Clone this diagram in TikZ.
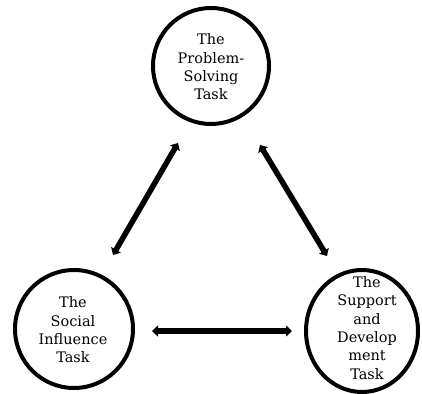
\documentclass[tikz,border=0pt]{standalone}
\usepackage{fontspec}
\setmainfont{DejaVu Serif}
\usetikzlibrary{arrows.meta}
\begin{document}
\begin{tikzpicture}[x=1pt,y=1pt,
  taskcircle/.style={draw=black, line width=4pt},
  tasktext/.style={align=center, inner sep=0pt, font=\fontsize{14.5}{18.3}\selectfont},
  biarrow/.style={line width=5.5pt, {Triangle[width=11pt,length=6pt]}-{Triangle[width=11pt,length=6pt]}}]
\useasboundingbox (0,0) rectangle (422,393);
% circles
\draw[taskcircle] (211,327) circle [radius=58];
\draw[taskcircle] (74,64) circle [radius=59];
\draw[taskcircle] (362,62) ellipse [x radius=56, y radius=61];
\node[tasktext] (ps) at (211,326) {The\\Problem-\\Solving\\Task};
\node[tasktext] (si) at (73,63) {The\\Social\\Influence\\Task};
\node[tasktext] (sd) at (367,65) {The\\Support\\and\\Develop\\ment\\Task};
% arrow ends
\coordinate (a1) at (113,138);
\coordinate (a2) at (178,250);
\coordinate (b1) at (260,248);
\coordinate (b2) at (327,137);
\coordinate (c1) at (152,62);
\coordinate (c2) at (292,62);
\draw[biarrow] (a1) -- (a2);
\draw[biarrow] (b1) -- (b2);
\draw[biarrow] (c1) -- (c2);
\end{tikzpicture}
\end{document}
